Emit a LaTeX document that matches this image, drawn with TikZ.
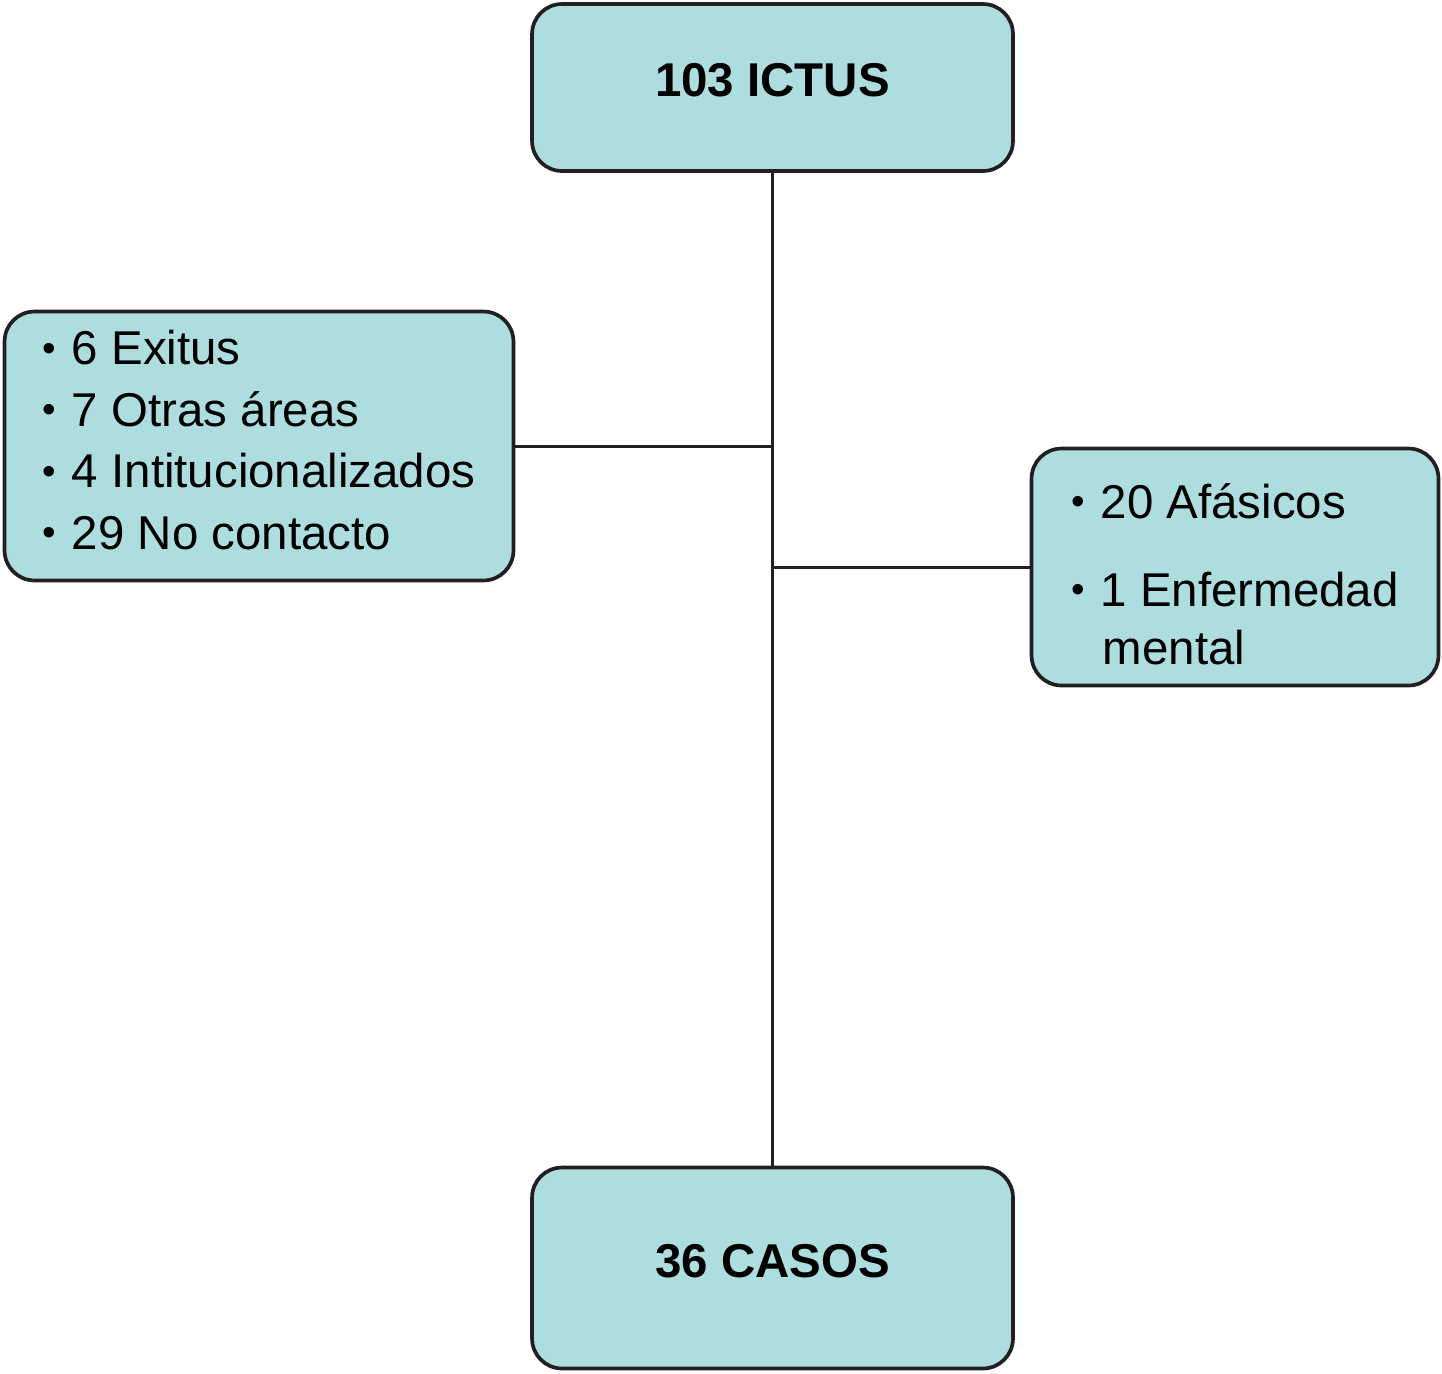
\documentclass[tikz,border=0pt]{standalone}
\usepackage{fontspec}
\setmainfont{Liberation Sans}
\definecolor{boxfill}{RGB}{173,221,222}
\definecolor{edge}{RGB}{35,31,32}
\newcommand{\itm}{\raisebox{2pt}{\fontsize{22pt}{22pt}\selectfont\textbullet}\hspace{9pt}}
\begin{document}
\begin{tikzpicture}[x=0.02cm,y=-0.02cm,
  box/.style={draw=edge,fill=boxfill,line width=2.1pt,rounded corners=0.6cm,inner sep=0pt},
  title/.style={box,minimum width=9.62cm,font=\fontsize{27pt}{32pt}\selectfont\bfseries,text depth=0.3cm},
  list/.style={box,align=left,font=\fontsize{27pt}{35pt}\selectfont},
  link/.style={draw=edge,line width=1.7pt}]
\useasboundingbox (0,0) rectangle (1442,1373);
% boxes
\node[title,minimum height=3.34cm](ictus) at (772.5,87.5){103 ICTUS};
\node[title,minimum height=4.02cm](casos) at (772.5,1268){36 CASOS};
\node[list,minimum width=10.18cm,minimum height=5.38cm,text depth=0.24cm](perdidas) at (259,446){%
  \itm 6 Exitus\\
  \itm 7 Otras áreas\\
  \itm 4 Intitucionalizados\\
  \itm 29 No contacto};
\node[list,minimum width=8.14cm,minimum height=4.74cm,font=\fontsize{27pt}{33pt}\selectfont](excluidos) at (1235,567){%
  \rule{0pt}{28pt}\itm 20 Afásicos\\[17pt]
  \itm 1 Enfermedad\\
  \hspace*{18pt}mental};
% connectors
\draw[link] (ictus.south) -- (casos.north);
\draw[link] (perdidas.east) -- (perdidas.east -| ictus.south);
\draw[link] (excluidos.west) -- (excluidos.west -| ictus.south);
\end{tikzpicture}
\end{document}
